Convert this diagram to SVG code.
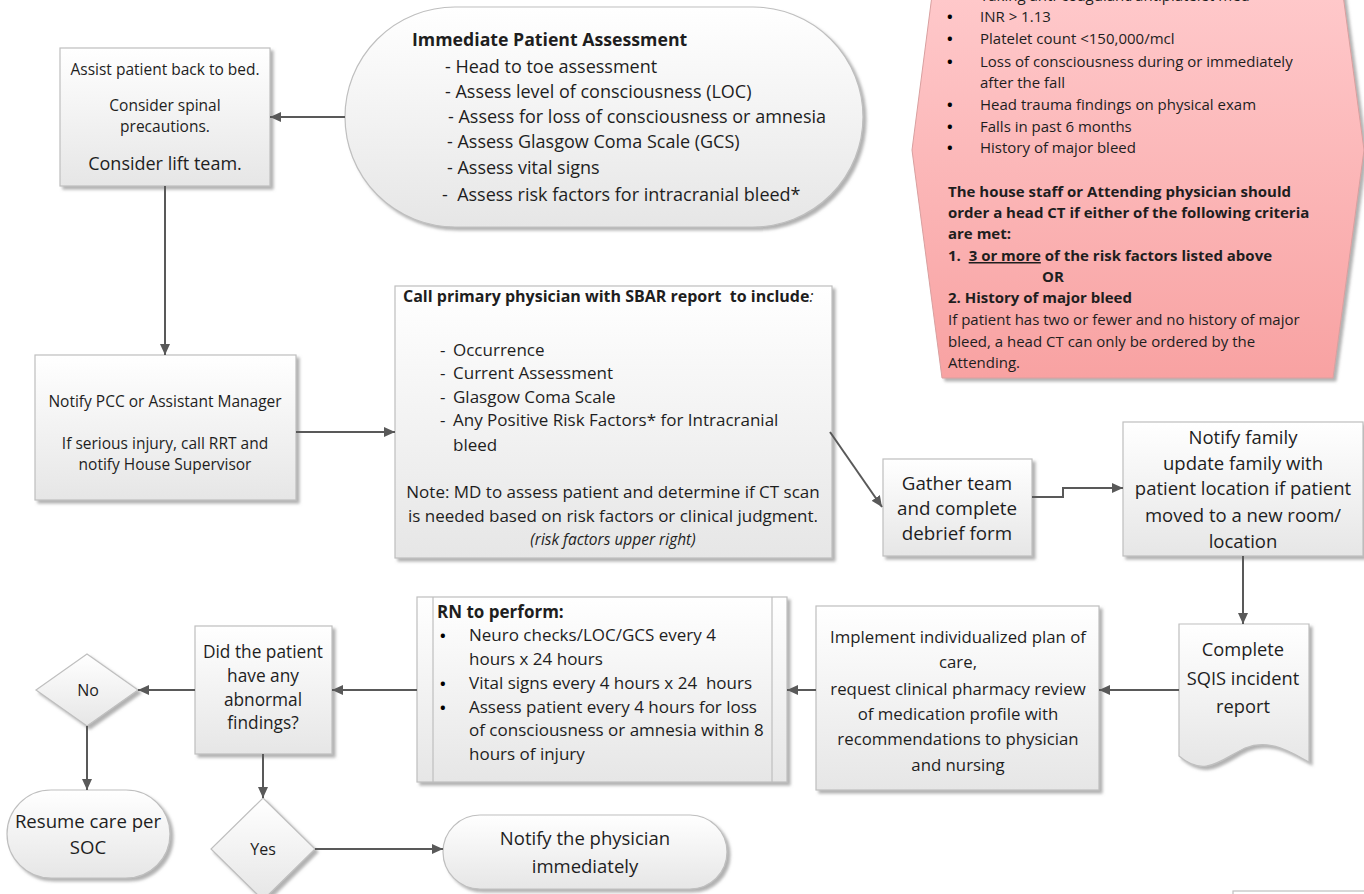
<svg xmlns="http://www.w3.org/2000/svg" width="1364" height="894" viewBox="0 0 1364 894">
<defs>
<linearGradient id="gBox" x1="0" y1="0" x2="0" y2="1">
<stop offset="0" stop-color="#FFFFFF"/>
<stop offset="1" stop-color="#E6E6E6"/>
</linearGradient>
<linearGradient id="gPink" x1="0" y1="0" x2="0" y2="1">
<stop offset="0" stop-color="#FFCACC"/>
<stop offset="1" stop-color="#F8A2A2"/>
</linearGradient>
<filter id="sh" x="-10%" y="-10%" width="125%" height="130%">
<feDropShadow dx="3" dy="3" stdDeviation="1.5" flood-color="#7F7F7F" flood-opacity="0.6"/>
</filter>
<marker id="ah" markerUnits="userSpaceOnUse" markerWidth="12" markerHeight="10" refX="11" refY="5" orient="auto">
<path d="M0,0 L11,5 L0,10 Z" fill="#595959"/>
</marker>
<style>
.box{fill:url(#gBox);stroke:#BFBFBF;stroke-width:1.2;filter:url(#sh)}
.pink{fill:url(#gPink);stroke:#D9A0A0;stroke-width:1;filter:url(#sh)}
.t{font-family:"Open Sans","Noto Sans",sans-serif;fill:#1E1E1E}
.c{text-anchor:middle}
.b{font-weight:bold}
.bul{font-size:15px;font-weight:bold;fill:#000}
.con{fill:none;stroke:#595959;stroke-width:2;marker-end:url(#ah)}
.pre{white-space:pre}
</style>
</defs>

<g id="risk-factors">
<path class="pink" d="M934,-20 L912,150 L942,378 L1333,378 L1364,150 L1341,-20 Z"/>
<g class="t" font-size="15">
<text x="947" y="1" class="bul">•</text><text x="980" y="1">Taking anti-coagulant/antiplatelet med</text>
<text x="947" y="22" class="bul">•</text><text x="980" y="22">INR &gt; 1.13</text>
<text x="947" y="44" class="bul">•</text><text x="980" y="44">Platelet count &lt;150,000/mcl</text>
<text x="947" y="67" class="bul">•</text><text x="980" y="67">Loss of consciousness during or immediately</text>
<text x="980" y="88">after the fall</text>
<text x="947" y="110" class="bul">•</text><text x="980" y="110">Head trauma findings on physical exam</text>
<text x="947" y="132" class="bul">•</text><text x="980" y="132">Falls in past 6 months</text>
<text x="947" y="153" class="bul">•</text><text x="980" y="153">History of major bleed</text>
<text x="948" y="197" class="b">The house staff or Attending physician should</text>
<text x="948" y="218" class="b">order a head CT if either of the following criteria</text>
<text x="948" y="239" class="b">are met:</text>
<text x="948" y="261" class="b pre">1.  <tspan text-decoration="underline">3 or more</tspan> of the risk factors listed above</text>
<text x="1042" y="282" class="b">OR</text>
<text x="948" y="303" class="b">2. History of major bleed</text>
<text x="948" y="325">If patient has two or fewer and no history of major</text>
<text x="948" y="347">bleed, a head CT can only be ordered by the</text>
<text x="948" y="368">Attending.</text>
</g>
</g>

<g id="immediate-assessment">
<rect class="box" x="345" y="7" width="518" height="220" rx="110" ry="110"/>
<g class="t" font-size="18">
<text x="412" y="46" class="b" font-size="17.7">Immediate Patient Assessment</text>
<text x="445" y="73">- Head to toe assessment</text>
<text x="445" y="98">- Assess level of consciousness (LOC)</text>
<text x="448" y="123">- Assess for loss of consciousness or amnesia</text>
<text x="447" y="148">- Assess Glasgow Coma Scale (GCS)</text>
<text x="447" y="174">- Assess vital signs</text>
<text x="442" y="201" class="pre">-  Assess risk factors for intracranial bleed*</text>
</g>
</g>

<g id="assist-patient">
<rect class="box" x="60" y="48" width="210" height="138"/>
<g class="t c">
<text x="165" y="75" font-size="15.5">Assist patient back to bed.</text>
<text x="165" y="111" font-size="15.5">Consider spinal</text>
<text x="165" y="132" font-size="15.5">precautions.</text>
<text x="165" y="170" font-size="18">Consider lift team.</text>
</g>
</g>

<g id="notify-pcc">
<rect class="box" x="35" y="355" width="261" height="145"/>
<g class="t c" font-size="15.5">
<text x="165" y="407">Notify PCC or Assistant Manager</text>
<text x="165" y="449">If serious injury, call RRT and</text>
<text x="165" y="470">notify House Supervisor</text>
</g>
</g>

<g id="sbar">
<rect class="box" x="395" y="286" width="437" height="272"/>
<g class="t" font-size="17">
<text x="403" y="302" class="b pre" font-size="16">Call primary physician with SBAR report  to include<tspan font-style="italic" font-weight="normal">:</tspan></text>
<text x="440" y="356">-</text><text x="453" y="356">Occurrence</text>
<text x="440" y="379">-</text><text x="453" y="379">Current Assessment</text>
<text x="440" y="403">-</text><text x="453" y="403">Glasgow Coma Scale</text>
<text x="440" y="426">-</text><text x="453" y="426">Any Positive Risk Factors* for Intracranial</text>
<text x="453" y="451">bleed</text>
<text x="613" y="498" class="c">Note: MD to assess patient and determine if CT scan</text>
<text x="613" y="522" class="c">is needed based on risk factors or clinical judgment.</text>
<text x="613" y="545" class="c" font-style="italic" font-size="15.5">(risk factors upper right)</text>
</g>
</g>

<g id="gather-team">
<rect class="box" x="883" y="459" width="149" height="97"/>
<g class="t c" font-size="18.8">
<text x="957" y="490">Gather team</text>
<text x="957" y="515">and complete</text>
<text x="957" y="540">debrief form</text>
</g>
</g>

<g id="notify-family">
<rect class="box" x="1123" y="422" width="240" height="134"/>
<g class="t c" font-size="18.5">
<text x="1243" y="444">Notify family</text>
<text x="1243" y="470">update family with</text>
<text x="1243" y="495">patient location if patient</text>
<text x="1243" y="522">moved to a new room/</text>
<text x="1243" y="548">location</text>
</g>
</g>

<g id="sqis-report">
<path class="box" d="M1179,624 L1309,624 L1309,762 C1290,752 1270,738 1245,748 C1220,760 1205,778 1179,756 Z"/>
<g class="t c" font-size="18.3">
<text x="1243" y="656">Complete</text>
<text x="1243" y="685">SQIS incident</text>
<text x="1243" y="713">report</text>
</g>
</g>

<g id="implement-plan">
<rect class="box" x="816" y="606" width="283" height="184"/>
<g class="t c" font-size="16.8">
<text x="958" y="643">Implement individualized plan of</text>
<text x="958" y="668">care,</text>
<text x="958" y="695">request clinical pharmacy review</text>
<text x="958" y="720">of medication profile with</text>
<text x="958" y="745">recommendations to physician</text>
<text x="958" y="771">and nursing</text>
</g>
</g>

<g id="rn-perform">
<rect class="box" x="417" y="597" width="370" height="185"/>
<path d="M433,597 V782 M772,597 V782" stroke="#BFBFBF" stroke-width="1.2" fill="none"/>
<g class="t" font-size="17">
<text x="437" y="618" class="b">RN to perform:</text>
<text x="440" y="641" class="bul">•</text><text x="469" y="641">Neuro checks/LOC/GCS every 4</text>
<text x="469" y="665">hours x 24 hours</text>
<text x="440" y="689" class="bul">•</text><text x="469" y="689" class="pre">Vital signs every 4 hours x 24  hours</text>
<text x="440" y="713" class="bul">•</text><text x="469" y="713">Assess patient every 4 hours for loss</text>
<text x="469" y="736">of consciousness or amnesia within 8</text>
<text x="469" y="760">hours of injury</text>
</g>
</g>

<g id="abnormal-findings">
<rect class="box" x="195" y="626" width="137" height="128"/>
<g class="t c" font-size="17.3">
<text x="263" y="658">Did the patient</text>
<text x="263" y="682">have any</text>
<text x="263" y="706">abnormal</text>
<text x="263" y="729">findings?</text>
</g>
</g>

<g id="no-decision">
<path class="box" d="M87,654 L138,690 L87,726 L36,690 Z"/>
<text class="t c" x="88" y="696" font-size="16">No</text>
</g>

<g id="resume-care">
<rect class="box" x="7" y="790" width="163" height="88" rx="44" ry="44"/>
<g class="t c" font-size="18.6">
<text x="88" y="828">Resume care per</text>
<text x="88" y="854">SOC</text>
</g>
</g>

<g id="yes-decision">
<path class="box" d="M263,798 L315,849 L263,900 L211,849 Z"/>
<text class="t c" x="263" y="855" font-size="16">Yes</text>
</g>

<g id="notify-physician">
<rect class="box" x="443" y="815" width="284" height="74" rx="37" ry="37"/>
<g class="t c" font-size="18.5">
<text x="585" y="845">Notify the physician</text>
<text x="585" y="873">immediately</text>
</g>
</g>

<g id="offscreen-box">
<rect x="1233" y="891" width="140" height="20" fill="#FFFFFF" stroke="#BFBFBF" stroke-width="1.2"/>
</g>

<g id="connectors">
<path class="con" d="M345,117 H270"/>
<path class="con" d="M165,186 V355"/>
<path class="con" d="M296,432 H395"/>
<path class="con" d="M830,432 L882,507"/>
<path class="con" d="M1032,497 H1063 V488 H1123"/>
<path class="con" d="M1243,556 V624"/>
<path class="con" d="M1179,690 H1099"/>
<path class="con" d="M816,690 H787"/>
<path class="con" d="M417,690 H332"/>
<path class="con" d="M195,690 H138"/>
<path class="con" d="M87,726 V790"/>
<path class="con" d="M263,754 V798"/>
<path class="con" d="M315,849 H443"/>
</g>
</svg>
